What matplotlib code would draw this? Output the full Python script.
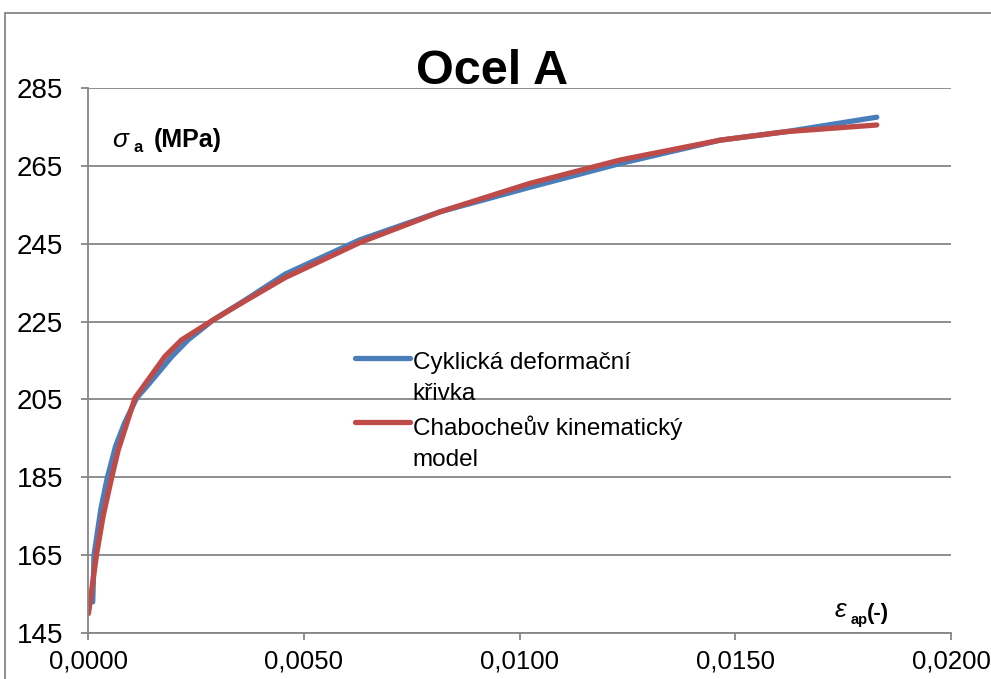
import numpy as np
import matplotlib
matplotlib.use("Agg")
import matplotlib.pyplot as plt
from matplotlib.patches import Rectangle

plt.rcParams['font.family'] = ['Liberation Sans', 'DejaVu Sans']

# data
eps_cyk = [0.00011, 0.00014, 0.00030, 0.00045, 0.00064, 0.00085, 0.00113, 0.00136,
           0.00194, 0.00232, 0.0029, 0.00364, 0.00457, 0.0063, 0.00816, 0.01024,
           0.01233, 0.01465, 0.01619, 0.01828]
sig_cyk = [153, 165, 177, 185, 193, 199, 205.4, 208.3, 216, 220.3, 225.4, 230.5,
           237.2, 246, 253.2, 259.5, 265.6, 271.6, 273.8, 277.5]

eps_chab = [0.00001, 0.0002, 0.00035, 0.00055, 0.0007, 0.00109, 0.00128, 0.00178,
            0.00217, 0.0029, 0.00364, 0.00457, 0.0063, 0.00816, 0.01024, 0.01233,
            0.01465, 0.01619, 0.01828]
sig_chab = [150, 165.3, 175, 185, 192, 205.4, 208.3, 216, 220.3, 225.4, 230.3,
            236.3, 245.3, 253.2, 260.5, 266.5, 271.6, 273.8, 275.5]

labels = ["Cyklická deformační\nkřivka", "Chabocheův kinematický\nmodel"]
x_ticks = [0.0, 0.005, 0.01, 0.015, 0.02]
y_ticks = [145, 165, 185, 205, 225, 245, 265, 285]

W, H = 991, 679
gray = "#868686"
blue = "#4A7EBB"
red = "#BE4B48"


def px(x, y):
    # pixel position -> figure fraction
    return x / W, 1 - y / H


fig = plt.figure(figsize=(W / 100, H / 100), dpi=100)
ax = fig.add_axes([88 / W, 1 - 633 / H, (951 - 88) / W, (633 - 88) / H])

# outer chart border
fig.patches.append(Rectangle(px(5, 700), 1.2, (700 - 13) / H, transform=fig.transFigure,
                             fill=False, edgecolor=gray, linewidth=1.3))

ax.plot(eps_cyk, sig_cyk, color=blue, linewidth=3.8, solid_capstyle="round",
        solid_joinstyle="round", label=labels[0])
ax.plot(eps_chab, sig_chab, color=red, linewidth=3.8, solid_capstyle="round",
        solid_joinstyle="round", label=labels[1])

ax.set_xlim(0, 0.02)
ax.set_ylim(145, 285)
ax.set_xticks(x_ticks)
ax.set_xticklabels([("%.4f" % v).replace(".", ",") for v in x_ticks])
ax.set_yticks(y_ticks)
ax.set_yticklabels([str(v) for v in y_ticks])

ax.grid(axis="y", color=gray, linewidth=1.3)
ax.set_axisbelow(True)
for s in ["top", "right"]:
    ax.spines[s].set_visible(False)
for s in ["left", "bottom"]:
    ax.spines[s].set_color(gray)
    ax.spines[s].set_linewidth(1.3)
ax.tick_params(axis="both", colors=gray, labelcolor="black", length=5, width=1.3)
ax.tick_params(axis="y", pad=13, labelsize=20)
ax.tick_params(axis="x", pad=7, labelsize=18.5)

leg = ax.legend(loc="upper left", bbox_to_anchor=px(355, 352), bbox_transform=fig.transFigure,
                frameon=False, fontsize=17.5, handlelength=2.25, handletextpad=0.12,
                labelspacing=0.45, borderpad=0, borderaxespad=0)
for t in leg.get_texts():
    t.set_linespacing(1.5)
for ln in leg.get_lines():
    ln.set_linewidth(3.8)
    ln.set_solid_capstyle("round")
    ln.set_ydata(np.asarray(ln.get_ydata()) + 14.9)

# title and axis labels
fig.text(*px(492, 84), "Ocel A", fontsize=35, fontweight="bold", ha="center", va="baseline")

fig.text(*px(112, 147), "σ", fontsize=19, fontstyle="italic", va="baseline")
fig.text(*px(133, 152), "a", fontsize=12, fontweight="bold", va="baseline")
fig.text(*px(154, 147), "(MPa)", fontsize=18, fontweight="bold", va="baseline")

fig.text(*px(835, 617), "ε", fontsize=19, fontstyle="italic", va="baseline")
fig.text(*px(851, 624), "ap", fontsize=10.5, fontweight="bold", va="baseline")
fig.text(*px(867, 619), "(-)", fontsize=16, fontweight="bold", va="baseline")

fig.savefig("out.png", dpi=100)
